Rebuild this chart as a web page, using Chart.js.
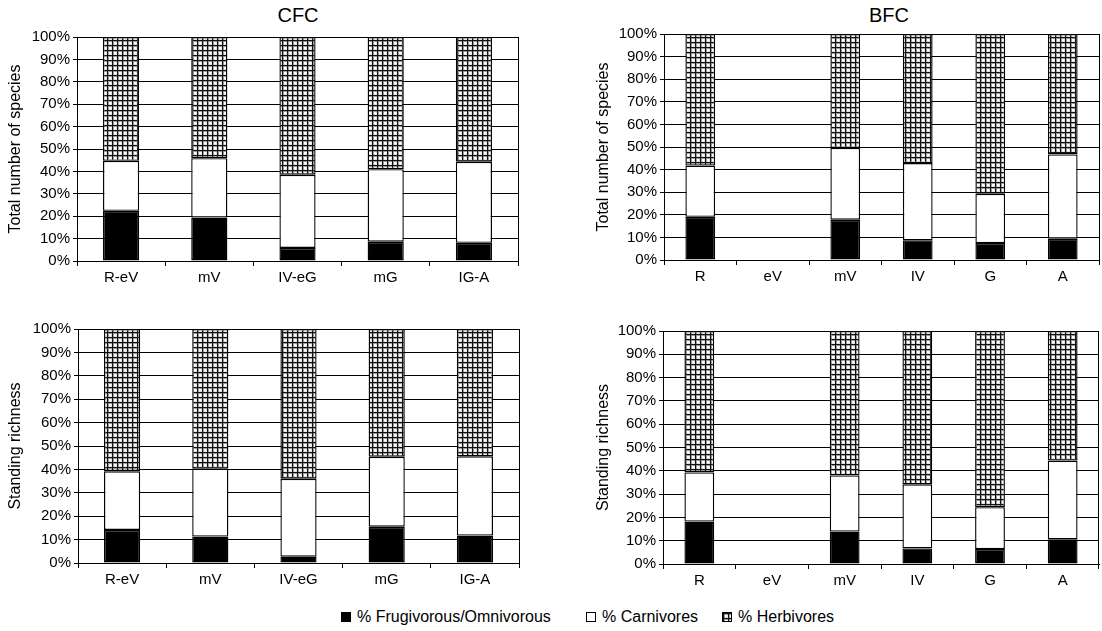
<!DOCTYPE html>
<html>
<head>
<meta charset="utf-8">
<script src="https://cdn.jsdelivr.net/npm/chart.js@4/dist/chart.umd.min.js"></script>
<style>
  html, body { margin: 0; padding: 0; background: #fff; }
  body { width: 1102px; height: 631px; position: relative; overflow: hidden; font-family: 'Liberation Sans', Arial, sans-serif; color: #000; }
  canvas { position: absolute; }
  .ttl { position: absolute; font-size: 20px; line-height: 24px; transform: translateX(-50%); white-space: nowrap; }
  .leg { position: absolute; top: 607px; font-size: 16px; line-height: 19px; white-space: nowrap; }
  .sw { position: absolute; top: 612px; width: 8px; height: 8px; border: 1px solid #000; box-sizing: content-box; }
</style>
</head>
<body>
<div class="ttl" style="left:298px; top:3px;">CFC</div>
<div class="ttl" style="left:889px; top:3px;">BFC</div>
<canvas id="c1"></canvas>
<canvas id="c2"></canvas>
<canvas id="c3"></canvas>
<canvas id="c4"></canvas>
<span class="sw" style="left:341px; background:#000;"></span>
<span class="leg" style="left:357px;">% Frugivorous/Omnivorous</span>
<span class="sw" style="left:586px; background:#fff;"></span>
<span class="leg" style="left:602px;">% Carnivores</span>
<span class="sw" id="herbSw" style="left:722px;"></span>
<span class="leg" style="left:738px;">% Herbivores</span>
<script>
// ---- data ----
const cfcCategories = ['R-eV', 'mV', 'IV-eG', 'mG', 'IG-A'];
const bfcCategories = ['R', 'eV', 'mV', 'IV', 'G', 'A'];
const yTickValues = [0, 10, 20, 30, 40, 50, 60, 70, 80, 90, 100];

const cfcTotalFrug = [22.4, 19.4, 5.8, 8.6, 8.1];
const cfcTotalCarn = [22.3, 26.5, 32.7, 32.4, 36.2];
const cfcTotalHerb = [55.3, 54.1, 61.5, 59.0, 55.7];

const bfcTotalFrug = [19.1, null, 17.8, 8.7, 7.5, 9.4];
const bfcTotalCarn = [22.7, null, 31.8, 34.2, 21.8, 37.3];
const bfcTotalHerb = [58.2, null, 50.4, 57.1, 70.7, 53.3];

const cfcStandFrug = [14.1, 11.3, 2.7, 15.5, 11.7];
const cfcStandCarn = [25.1, 29.0, 33.3, 29.9, 33.9];
const cfcStandHerb = [60.8, 59.7, 64.0, 54.6, 54.4];

const bfcStandFrug = [18.2, null, 13.9, 6.7, 6.4, 10.6];
const bfcStandCarn = [21.1, null, 24.1, 27.5, 18.0, 33.8];
const bfcStandHerb = [60.7, null, 62.0, 65.8, 75.6, 55.6];

const seriesNames = ['% Frugivorous/Omnivorous', '% Carnivores', '% Herbivores'];

// ---- pattern for herbivores ----
function makePattern() {
  const t = document.createElement('canvas');
  t.width = 5; t.height = 5;
  const g = t.getContext('2d');
  g.fillStyle = '#ffffff';
  g.fillRect(0, 0, 5, 5);
  g.fillStyle = '#e4e4e4';
  g.fillRect(1, 1, 4, 4);
  g.fillStyle = '#ffffff';
  g.fillRect(2, 2, 2, 2);
  g.fillStyle = '#9a9a9a';
  g.fillRect(0, 1, 5, 1);
  g.fillRect(1, 0, 1, 5);
  g.fillStyle = '#111111';
  g.fillRect(0, 0, 5, 1);
  g.fillRect(0, 0, 1, 5);
  return t;
}
const tile = makePattern();
const herbPattern = document.createElement('canvas').getContext('2d').createPattern(tile, 'repeat');
document.getElementById('herbSw').style.background = 'url(' + tile.toDataURL() + ')';

const FONT = "'Liberation Sans', Arial, sans-serif";

function buildChart(id, cfg) {
  const cv = document.getElementById(id);
  cv.width = cfg.cw; cv.height = cfg.ch;
  cv.style.left = cfg.cl + 'px'; cv.style.top = cfg.ct + 'px';
  cv.style.width = cfg.cw + 'px'; cv.style.height = cfg.ch + 'px';
  const n = cfg.labels.length;
  const common = { borderColor: '#000', borderWidth: 1.4, borderSkipped: false, inflateAmount: 0, barPercentage: 0.41, categoryPercentage: 1.0 };
  return new Chart(cv, {
    type: 'bar',
    data: {
      labels: cfg.labels,
      datasets: [
        Object.assign({ label: seriesNames[0], data: cfg.frug, backgroundColor: '#000' }, common),
        Object.assign({ label: seriesNames[1], data: cfg.carn, backgroundColor: '#fff' }, common),
        Object.assign({ label: seriesNames[2], data: cfg.herb, backgroundColor: herbPattern }, common)
      ]
    },
    options: {
      responsive: false,
      animation: false,
      devicePixelRatio: 1,
      layout: { padding: { top: 12, right: 2, bottom: 0, left: 0 } },
      plugins: { legend: { display: false }, tooltip: { enabled: false }, title: { display: false } },
      scales: {
        x: {
          stacked: true,
          grid: {
            offset: true,
            drawOnChartArea: true,
            color: (c) => ((c.type !== 'tick' || c.index >= n) ? '#000' : 'rgba(0,0,0,0)'),
            tickColor: '#000',
            tickLength: 5,
            lineWidth: 1
          },
          border: { display: true, color: '#000', width: 1 },
          ticks: { color: '#000', font: { family: FONT, size: 15 }, padding: 3, maxRotation: 0, autoSkip: false },
          afterFit: (s) => { s.height = 30; }
        },
        y: {
          stacked: true,
          min: 0, max: 100,
          afterBuildTicks: (s) => { s.ticks = yTickValues.map(v => ({ value: v })); },
          grid: { color: '#000', tickColor: '#000', tickLength: 4, lineWidth: 1 },
          border: { display: true, color: '#000', width: 1 },
          ticks: { color: '#000', font: { family: FONT, size: 15 }, padding: 3, callback: (v) => v + '%' },
          title: { display: true, text: cfg.yTitle, color: '#000', font: { family: FONT, size: 16 }, padding: { top: 4, bottom: 0 } },
          afterFit: (s) => { s.width = cfg.yw; }
        }
      }
    }
  });
}

buildChart('c1', { cl: 2, ct: 25, cw: 518, ch: 266, yw: 75, labels: cfcCategories,
  frug: cfcTotalFrug, carn: cfcTotalCarn, herb: cfcTotalHerb, yTitle: 'Total number of species' });
buildChart('c2', { cl: 590, ct: 22, cw: 511, ch: 268, yw: 74, labels: bfcCategories,
  frug: bfcTotalFrug, carn: bfcTotalCarn, herb: bfcTotalHerb, yTitle: 'Total number of species' });
buildChart('c3', { cl: 2, ct: 317, cw: 519, ch: 276, yw: 76, labels: cfcCategories,
  frug: cfcStandFrug, carn: cfcStandCarn, herb: cfcStandHerb, yTitle: 'Standing richness' });
buildChart('c4', { cl: 590, ct: 319, cw: 511, ch: 275, yw: 73, labels: bfcCategories,
  frug: bfcStandFrug, carn: bfcStandCarn, herb: bfcStandHerb, yTitle: 'Standing richness' });
</script>
</body>
</html>
